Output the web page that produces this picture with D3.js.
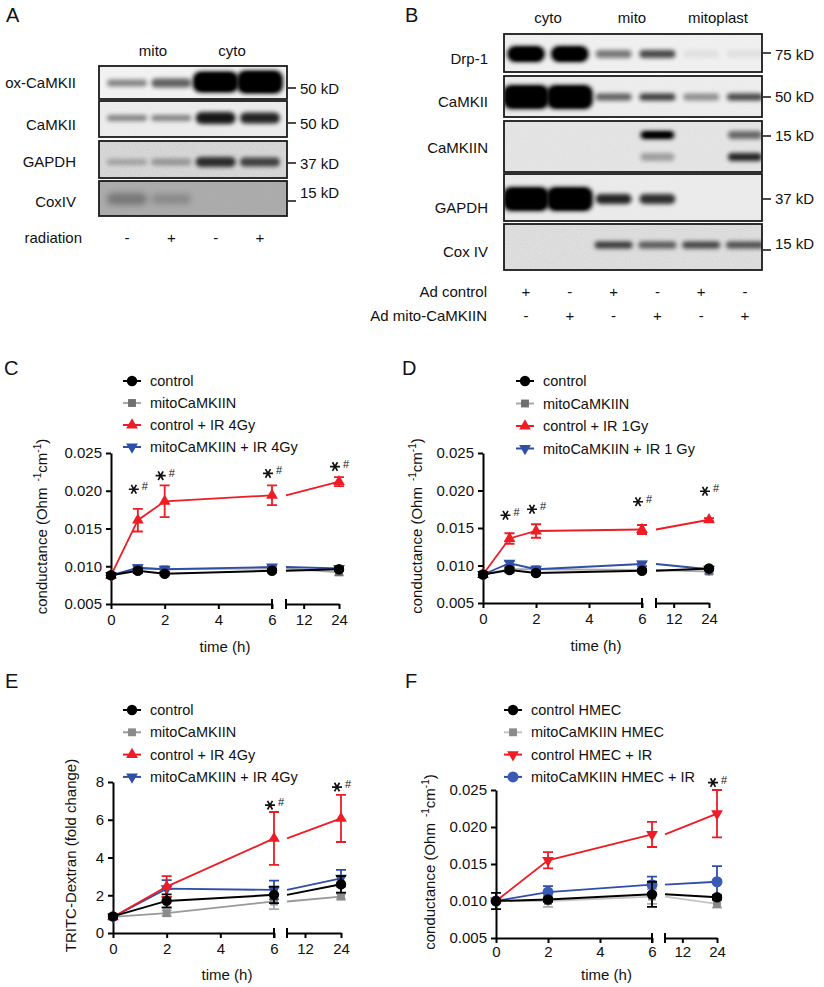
<!DOCTYPE html>
<html><head><meta charset="utf-8">
<script src="https://cdn.jsdelivr.net/npm/d3@7"></script>
<style>
body{margin:0;background:#fff}
svg{display:block}
text{font-family:'Liberation Sans',Arial,sans-serif;fill:#111}
</style>
</head><body><svg id="fig" width="824" height="987"></svg>
<script>
// ================= DATA =================
// Panel A blot
const A_lanes = ["-", "+", "-", "+"];
const A_groups = ["mito", "cyto"];
const A_rows = ["ox-CaMKII", "CaMKII", "GAPDH", "CoxIV"];
const A_kD = ["50 kD", "50 kD", "37 kD", "15 kD"];
const A_oxCaMKII = [0.45, 0.6, 1.0, 1.0];
const A_CaMKII = [0.45, 0.45, 0.9, 0.85];
const A_GAPDH = [0.25, 0.3, 0.8, 0.7];
const A_CoxIV = [0.3, 0.2, 0, 0];

// Panel B blot
const B_adControl = ["+", "-", "+", "-", "+", "-"];
const B_adMito = ["-", "+", "-", "+", "-", "+"];
const B_groups = ["cyto", "mito", "mitoplast"];
const B_rows = ["Drp-1", "CaMKII", "CaMKIIN", "GAPDH", "Cox IV"];
const B_kD = ["75 kD", "50 kD", "15 kD", "37 kD", "15 kD"];
const B_Drp1 = [1, 1, 0.5, 0.7, 0.06, 0.06];
const B_CaMKII = [1, 1, 0.6, 0.75, 0.4, 0.7];
const B_CaMKIIN_upper = [0, 0, 0, 1, 0, 0.55];
const B_CaMKIIN_lower = [0, 0, 0, 0.3, 0, 0.85];
const B_GAPDH = [1, 1, 0.85, 0.8, 0, 0];
const B_CoxIV = [0, 0, 0.75, 0.6, 0.7, 0.65];

// Panels C, D (conductance, Ohm^-1 cm^-1)
const timesCD = [0, 1, 2, 6, 24];
const C_control = [0.0088, 0.0094, 0.0090, 0.0094, 0.0096];
const C_controlErr = [0.0003, 0.0003, 0.0002, 0.0002, 0.0002];
const C_mito = [0.0088, 0.0097, 0.0096, 0.0097, 0.0092];
const C_mitoErr = [0.0003, 0.0003, 0.0003, 0.0002, 0.0004];
const C_ctrlIR = [0.0088, 0.0161, 0.0186, 0.0194, 0.0212];
const C_ctrlIRErr = [0.0002, 0.0015, 0.0021, 0.0013, 0.0006];
const C_mitoIR = [0.0088, 0.0098, 0.0096, 0.0099, 0.0097];
const C_mitoIRErr = [0.0002, 0.0003, 0.0003, 0.0002, 0.0002];
const C_starTimes = [1, 2, 6, 24];
const C_starLevels = [0.0202, 0.0220, 0.0223, 0.0232];

const D_control = [0.0088, 0.0094, 0.0090, 0.0093, 0.0096];
const D_controlErr = [0.0003, 0.0003, 0.0002, 0.0002, 0.0002];
const D_mito = [0.0088, 0.0095, 0.0095, 0.0094, 0.0092];
const D_mitoErr = [0.0002, 0.0002, 0.0003, 0.0002, 0.0003];
const D_ctrlIR = [0.0088, 0.0136, 0.0146, 0.0148, 0.0161];
const D_ctrlIRErr = [0.0002, 0.0007, 0.0009, 0.0006, 0.0002];
const D_mitoIR = [0.0088, 0.0103, 0.0095, 0.0102, 0.0095];
const D_mitoIRErr = [0.0002, 0.0003, 0.0002, 0.0003, 0.0002];
const D_starTimes = [1, 2, 6, 24];
const D_starLevels = [0.0167, 0.0175, 0.0185, 0.0199];

// Panel E (TRITC-Dextran fold change)
const timesEF = [0, 2, 6, 24];
const E_control = [0.88, 1.70, 2.02, 2.58];
const E_controlErr = [0.1, 0.35, 0.44, 0.44];
const E_mito = [0.85, 1.05, 1.67, 1.93];
const E_mitoErr = [0.1, 0.15, 0.4, 0.15];
const E_ctrlIR = [0.85, 2.46, 5.01, 6.07];
const E_ctrlIRErr = [0.1, 0.55, 1.4, 1.25];
const E_mitoIR = [0.85, 2.35, 2.28, 2.9];
const E_mitoIRErr = [0.1, 0.45, 0.5, 0.44];
const E_starTimes = [6, 24];
const E_starLevels = [6.77, 7.73];

// Panel F (HMEC conductance)
const F_control = [0.0100, 0.0102, 0.0109, 0.0105];
const F_controlErr = [0.0011, 0.0003, 0.0017, 0.0003];
const F_mito = [0.0100, 0.0100, 0.0106, 0.0096];
const F_mitoErr = [0.0003, 0.0008, 0.0010, 0.0005];
const F_ctrlIR = [0.0100, 0.0155, 0.0190, 0.0218];
const F_ctrlIRErr = [0.0002, 0.0011, 0.0017, 0.0032];
const F_mitoIR = [0.0100, 0.0112, 0.0122, 0.0126];
const F_mitoIRErr = [0.0002, 0.0008, 0.0011, 0.0021];
const F_starTimes = [24];
const F_starLevels = [0.0260];

const condTicks = [0.005, 0.010, 0.015, 0.020, 0.025];
const foldTicks = [0, 2, 4, 6, 8];
const xTicksLeft = [0, 2, 4, 6];
const xTicksRight = [12, 24];

// ================= STYLE =================
const COL = {black: "#000", grayLine: "#a8a8a8", grayMark: "#6f6f6f", red: "#ee1c25", blue: "#2f4ea6"};
const svg = d3.select("#fig");
svg.append("rect").attr("width", 824).attr("height", 987).attr("fill", "#fff");
const defs = svg.append("defs");
[["bl1", 1.4], ["bl2", 2.2], ["bl3", 3.2]].forEach(([id, s]) => {
  defs.append("filter").attr("id", id).attr("x", "-50%").attr("y", "-100%").attr("width", "200%").attr("height", "300%")
    .append("feGaussianBlur").attr("stdDeviation", s);
});
const nf = defs.append("filter").attr("id", "noise").attr("x", 0).attr("y", 0).attr("width", "100%").attr("height", "100%");
nf.append("feTurbulence").attr("type", "fractalNoise").attr("baseFrequency", 0.85).attr("numOctaves", 2).attr("seed", 4);
nf.append("feColorMatrix").attr("type", "saturate").attr("values", 0);

let clipN = 0;
function blotRow(box, bg, noiseOp, bands) {
  const id = "clip" + (clipN++);
  defs.append("clipPath").attr("id", id).append("rect")
    .attr("x", box[0]).attr("y", box[1]).attr("width", box[2] - box[0]).attr("height", box[3] - box[1]);
  const g = svg.append("g").attr("clip-path", `url(#${id})`);
  g.append("rect").attr("x", box[0]).attr("y", box[1]).attr("width", box[2] - box[0]).attr("height", box[3] - box[1]).attr("fill", bg);
  if (noiseOp > 0) {
    g.append("rect").attr("x", box[0]).attr("y", box[1]).attr("width", box[2] - box[0]).attr("height", box[3] - box[1])
      .attr("filter", "url(#noise)").attr("opacity", noiseOp);
  }
  bands.forEach(b => {
    if (b.a <= 0) return;
    g.append("rect").attr("x", b.x - b.w / 2).attr("y", b.y - b.h / 2).attr("width", b.w).attr("height", b.h)
      .attr("rx", Math.min(b.h / 2, 8)).attr("fill", "#050505").attr("opacity", b.a).attr("filter", `url(#${b.f || "bl2"})`);
    if (b.a >= 0.95) {
      g.append("rect").attr("x", b.x - b.w / 2 + 4).attr("y", b.y - b.h / 2 + 2).attr("width", b.w - 8).attr("height", Math.max(b.h - 4, 2))
        .attr("rx", Math.min(b.h / 3, 6)).attr("fill", "#000").attr("filter", "url(#bl1)");
    }
  });
  svg.append("rect").attr("x", box[0]).attr("y", box[1]).attr("width", box[2] - box[0]).attr("height", box[3] - box[1])
    .attr("fill", "none").attr("stroke", "#1a1a1a").attr("stroke-width", 1.8);
}
function txt(x, y, s, size, anchor, extra) {
  const t = svg.append("text").attr("x", x).attr("y", y).attr("font-size", size).attr("text-anchor", anchor || "start").text(s);
  if (extra) extra(t);
  return t;
}

// ================= PANEL LABELS =================
[["A", 6, 22], ["B", 405, 22], ["C", 4, 375], ["D", 402, 375], ["E", 5, 688], ["F", 405, 688]]
  .forEach(([s, x, y]) => txt(x, y, s, 20, "start"));

// ================= PANEL A =================
{
  const lx = d3.scalePoint().domain(d3.range(4)).range([127, 260]);
  const box = [99, 287];
  const rowsY = [[66, 99], [101, 137], [141, 178], [181, 216]];
  const bandY = [83, 118, 162, 199];
  const bgs = ["#f3f3f3", "#ededed", "#d9d9d9", "#ababab"];
  const noise = [0.05, 0.06, 0.28, 0.05];
  const vals = [A_oxCaMKII, A_CaMKII, A_GAPDH, A_CoxIV];
  const hs = [[7, 9, 21, 23], [6, 6, 12, 11], [6, 7, 10, 9], [12, 10, 8, 8]];
  vals.forEach((v, r) => {
    blotRow([box[0], rowsY[r][0], box[1], rowsY[r][1]], bgs[r], noise[r],
      v.map((a, i) => ({x: lx(i), y: bandY[r] + (r === 0 && i > 1 ? -1 : 0), w: r === 0 && i > 1 ? 46 : 40, h: hs[r][i], a: a, f: r === 3 ? "bl3" : "bl2"})));
    txt(76, [88, 130, 167, 207][r], A_rows[r], 15, "end");
    const ty = [88, 123, 163, 201][r];
    svg.append("line").attr("x1", 288).attr("x2", 296).attr("y1", ty).attr("y2", ty).attr("stroke", "#111").attr("stroke-width", 1.5);
    txt(300, [94, 129, 169, 198][r], A_kD[r], 15, "start");
  });
  txt(153, 56, A_groups[0], 15, "middle");
  txt(232, 56, A_groups[1], 15, "middle");
  txt(82, 243, "radiation", 15, "end");
  A_lanes.forEach((s, i) => txt(lx(i), 243, s, 15, "middle"));
}

// ================= PANEL B =================
{
  const lx = d3.scalePoint().domain(d3.range(6)).range([526, 745]);
  const box = [504, 762];
  const rowsY = [[34, 72], [76, 117], [121, 172], [174, 221], [224, 270]];
  const bgs = ["#f1f1f1", "#eeeeee", "#e6e6e6", "#ececec", "#e0e0e0"];
  const noise = [0.06, 0.07, 0.12, 0.06, 0.2];
  const bands = [
    B_Drp1.map((a, i) => ({x: lx(i), y: 54, w: i < 2 ? 38 : 36, h: i < 2 ? 16 : 8, a: a})),
    B_CaMKII.map((a, i) => ({x: lx(i), y: 97, w: i < 2 ? 46 : 36, h: i < 2 ? 24 : 7, a: a})),
    B_CaMKIIN_upper.map((a, i) => ({x: lx(i), y: 135, w: 34, h: 8, a: a}))
      .concat(B_CaMKIIN_lower.map((a, i) => ({x: lx(i), y: 157, w: 34, h: 8, a: a}))),
    B_GAPDH.map((a, i) => ({x: lx(i), y: 199, w: i < 2 ? 46 : 36, h: i < 2 ? 24 : 10, a: a})),
    B_CoxIV.map((a, i) => ({x: lx(i), y: 245, w: 38, h: 7, a: a}))
  ];
  bands.forEach((b, r) => {
    blotRow([box[0], rowsY[r][0], box[1], rowsY[r][1]], bgs[r], noise[r], b);
    txt(488, [64, 107, 153, 213, 257][r], B_rows[r], 15, "end");
    const ty = [53, 97, 136, 199, 250][r];
    svg.append("line").attr("x1", 763).attr("x2", 771).attr("y1", ty).attr("y2", ty).attr("stroke", "#111").attr("stroke-width", 1.5);
    txt(775, [60, 102, 141, 204, 249][r], B_kD[r], 15, "start");
  });
  [548, 632, 718].forEach((x, i) => txt(x, 23, B_groups[i], 15, "middle"));
  txt(487, 297, "Ad control", 15, "end");
  txt(487, 321, "Ad mito-CaMKIIN", 15, "end");
  B_adControl.forEach((s, i) => txt(lx(i), 297, s, 15, "middle"));
  B_adMito.forEach((s, i) => txt(lx(i), 321, s, 15, "middle"));
}

// ================= LINE PANELS =================
const sym = {
  circle: d3.symbol().type(d3.symbolCircle).size(85),
  circleBig: d3.symbol().type(d3.symbolCircle).size(95),
  square: d3.symbol().type(d3.symbolSquare).size(62),
  tri: d3.symbol().type(d3.symbolTriangle).size(60)
};
function marker(g, kind, x, y, color) {
  const p = g.append("path").attr("fill", color).attr("transform", `translate(${x},${y})` + (kind === "triDown" ? " rotate(180)" : ""));
  if (kind === "circle") p.attr("d", sym.circle());
  else if (kind === "circleBig") p.attr("d", sym.circleBig());
  else if (kind === "square") p.attr("d", sym.square());
  else p.attr("d", sym.tri());
  return p;
}
function star(g, x, y) {
  const r = 5;
  const d = [0, 60, 120].map(a => {
    const c = Math.cos(a * Math.PI / 180) * r, s = Math.sin(a * Math.PI / 180) * r;
    return `M${x - c},${y - s}L${x + c},${y + s}`;
  }).join("");
  g.append("path").attr("d", d).attr("stroke", "#111").attr("stroke-width", 1.7).attr("fill", "none");
  g.append("text").attr("x", x + 8).attr("y", y + 1).attr("font-size", 11).attr("text-anchor", "start").text("#");
}

function linePanel(cfg) {
  const g = svg.append("g");
  const xL = d3.scaleLinear().domain([0, 6]).range(cfg.xl);
  const xR = d3.scaleLinear().domain([6, 24]).range(cfg.xr);
  const X = t => (t <= 6 ? xL(t) : xR(t));
  const y = d3.scaleLinear().domain(cfg.yDomain).range(cfg.yr);
  const y0 = cfg.yr[0];

  // axes
  const ay = g.append("g").attr("transform", `translate(${cfg.xl[0]},0)`)
    .call(d3.axisLeft(y).tickValues(cfg.yTicks).tickFormat(cfg.yFmt).tickSize(5).tickSizeOuter(0).tickPadding(4));
  const axL = g.append("g").attr("transform", `translate(0,${y0})`)
    .call(d3.axisBottom(xL).tickValues(xTicksLeft).tickFormat(d3.format("d")).tickSize(5).tickSizeOuter(0).tickPadding(cfg.xPad));
  const axR = g.append("g").attr("transform", `translate(0,${y0})`)
    .call(d3.axisBottom(xR).tickValues(xTicksRight).tickFormat(d3.format("d")).tickSize(5).tickSizeOuter(0).tickPadding(cfg.xPad));
  [ay, axL, axR].forEach(a => {
    a.selectAll("path,line").attr("stroke", "#000").attr("stroke-width", 2);
    a.selectAll("text").attr("font-size", 15).attr("fill", "#111").attr("font-family", "'Liberation Sans',Arial,sans-serif");
  });
  // break marks
  [xL(6), xR(6)].forEach(bx => g.append("line").attr("x1", bx).attr("x2", bx).attr("y1", y0 - 5).attr("y2", y0 + 5)
    .attr("stroke", "#000").attr("stroke-width", 2));

  // titles
  g.append("text").attr("x", (cfg.xl[0] + cfg.xr[1]) / 2).attr("y", y0 + cfg.titleDy).attr("font-size", 15).attr("text-anchor", "middle").text("time (h)");
  const yt = g.append("text").attr("transform", `translate(${cfg.titleX},${(cfg.yr[0] + cfg.yr[1]) / 2 - 2}) rotate(-90)`)
    .attr("font-size", 15).attr("text-anchor", "middle");
  if (cfg.cond) {
    yt.append("tspan").text("conductance (Ohm\u2009\u2009");
    yt.append("tspan").attr("font-size", 10).attr("dy", -6).text("-1");
    yt.append("tspan").attr("dy", 6).text("cm");
    yt.append("tspan").attr("font-size", 10).attr("dy", -6).text("-1");
    yt.append("tspan").attr("dy", 6).text(")");
  } else {
    yt.text("TRITC-Dextran (fold change)");
  }

  // series
  cfg.series.forEach(s => {
    const pts = cfg.times.map((t, i) => ({t, v: s.v[i], e: s.e[i]}));
    const left = pts.filter(p => p.t <= 6);
    const lineL = d3.line().x(p => xL(p.t)).y(p => y(p.v));
    const lineR = d3.line().x(p => xR(p.t)).y(p => y(p.v));
    const last2 = pts.filter(p => p.t >= 6);
    pts.forEach(p => {
      const x = X(p.t);
      g.append("path").attr("d", `M${x},${y(p.v - p.e)}V${y(p.v + p.e)}M${x - 5},${y(p.v + p.e)}H${x + 5}M${x - 5},${y(p.v - p.e)}H${x + 5}`)
        .attr("stroke", s.bar || s.line).attr("stroke-width", 1.8).attr("fill", "none");
    });
    g.append("path").attr("d", lineL(left)).attr("stroke", s.line).attr("stroke-width", s.lw || 1.8).attr("fill", "none");
    g.append("path").attr("d", lineR(last2)).attr("stroke", s.line).attr("stroke-width", s.lw || 1.8).attr("fill", "none");
    pts.forEach(p => marker(g, s.mk, X(p.t), y(p.v), s.mc));
  });

  // stars
  cfg.starT.forEach((t, i) => star(g, X(t) - 4, y(cfg.starV[i])));

  // legend
  const lg = cfg.legend;
  cfg.legendOrder.forEach((s, i) => {
    const ly = lg.y + i * lg.dy;
    g.append("line").attr("x1", lg.x - 9).attr("x2", lg.x + 9).attr("y1", ly).attr("y2", ly).attr("stroke", s.line).attr("stroke-width", 2);
    marker(g, s.mk, lg.x, ly, s.mc);
    g.append("text").attr("x", lg.x + 18).attr("y", ly + 5).attr("font-size", 14.5).text(s.name);
  });
}

function mkSeries(names, vals, errs, mks) {
  const styles = [
    {line: COL.black, mc: COL.black, lw: 2},
    {line: COL.grayLine, mc: COL.grayMark, bar: "#aaaaaa"},
    {line: COL.red, mc: COL.red},
    {line: COL.blue, mc: COL.blue}
  ];
  return names.map((n, i) => Object.assign({name: n, v: vals[i], e: errs[i], mk: mks[i]}, styles[i]));
}
function drawOrder(s) { return [s[1], s[3], s[2], s[0]]; }

const condFmt = d3.format(".3f");
// C
{
  const s = mkSeries(["control", "mitoCaMKIIN", "control + IR 4Gy", "mitoCaMKIIN + IR 4Gy"],
    [C_control, C_mito, C_ctrlIR, C_mitoIR], [C_controlErr, C_mitoErr, C_ctrlIRErr, C_mitoIRErr],
    ["circle", "square", "triUp", "triDown"]);
  linePanel({xl: [111, 272], xr: [286, 339], yDomain: [0.005, 0.025], yr: [604, 453], yTicks: condTicks, yFmt: condFmt,
    cond: true, titleX: 47, titleDy: 48, xPad: 5, times: timesCD, series: drawOrder(s), legendOrder: s,
    starT: C_starTimes, starV: C_starLevels, legend: {x: 132, y: 381, dy: 22}});
}
// D
{
  const s = mkSeries(["control", "mitoCaMKIIN", "control + IR 1Gy", "mitoCaMKIIN + IR 1 Gy"],
    [D_control, D_mito, D_ctrlIR, D_mitoIR], [D_controlErr, D_mitoErr, D_ctrlIRErr, D_mitoIRErr],
    ["circle", "square", "triUp", "triDown"]);
  linePanel({xl: [483, 642], xr: [656, 709], yDomain: [0.005, 0.025], yr: [603, 453], yTicks: condTicks, yFmt: condFmt,
    cond: true, titleX: 422, titleDy: 48, xPad: 5, times: timesCD, series: drawOrder(s), legendOrder: s,
    starT: D_starTimes, starV: D_starLevels, legend: {x: 525, y: 381, dy: 22.5}});
}
// E
{
  const s = mkSeries(["control", "mitoCaMKIIN", "control + IR 4Gy", "mitoCaMKIIN + IR 4Gy"],
    [E_control, E_mito, E_ctrlIR, E_mitoIR], [E_controlErr, E_mitoErr, E_ctrlIRErr, E_mitoIRErr],
    ["circle", "square", "triUp", "triDown"]);
  s[1].line = "#999"; s[1].mc = "#8a8a8a";
  linePanel({xl: [113, 274], xr: [287, 341], yDomain: [0, 8], yr: [933, 782], yTicks: foldTicks, yFmt: d3.format("d"),
    cond: false, titleX: 76, titleDy: 47, xPad: 5, times: timesEF, series: drawOrder(s), legendOrder: s,
    starT: E_starTimes, starV: E_starLevels, legend: {x: 132, y: 710, dy: 22.3}});
}
// F
{
  const s = mkSeries(["control HMEC", "mitoCaMKIIN HMEC", "control HMEC + IR", "mitoCaMKIIN HMEC + IR"],
    [F_control, F_mito, F_ctrlIR, F_mitoIR], [F_controlErr, F_mitoErr, F_ctrlIRErr, F_mitoIRErr],
    ["circle", "square", "triDown", "circleBig"]);
  s[1].line = "#c4c4c4"; s[1].mc = "#8a8a8a"; s[3].mc = "#3a5bb5";
  linePanel({xl: [496, 652], xr: [665, 717], yDomain: [0.005, 0.025], yr: [938, 790], yTicks: condTicks, yFmt: condFmt,
    cond: true, titleX: 435, titleDy: 42, xPad: 3, times: timesEF, series: drawOrder(s), legendOrder: s,
    starT: F_starTimes, starV: F_starLevels, legend: {x: 513, y: 710, dy: 22.3}});
}
</script></body></html>
